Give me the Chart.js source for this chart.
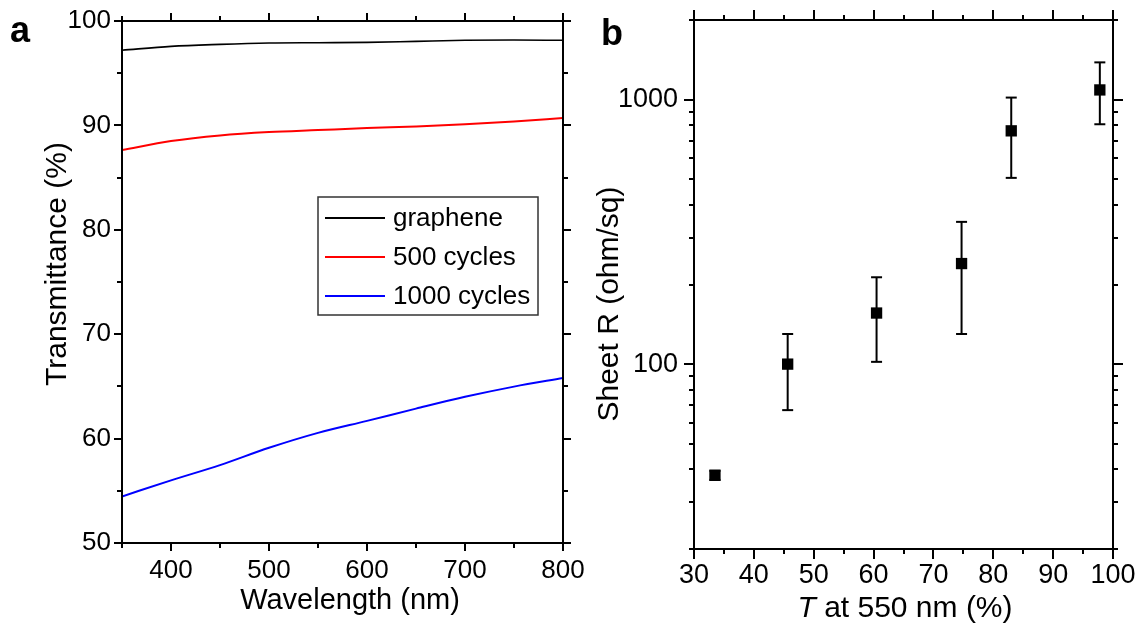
<!DOCTYPE html>
<html>
<head>
<meta charset="utf-8">
<script src="https://cdn.jsdelivr.net/npm/chart.js@4"></script>
<style>
  html, body { margin: 0; padding: 0; background: #fff; }
  #wrap { position: relative; width: 1139px; height: 624px; overflow: hidden; background: #fff; }
  #boxA { position: absolute; left: 0; top: 0; width: 600px; height: 624px; }
  #boxB { position: absolute; left: 580px; top: 0; width: 559px; height: 624px; }
</style>
</head>
<body>
<div id="wrap">
  <div id="boxA"><canvas id="chartA"></canvas></div>
  <div id="boxB"><canvas id="chartB"></canvas></div>
</div>
<script>
// ---------- Panel a data ----------
const wavelength = [350, 400, 450, 500, 550, 600, 650, 700, 750, 800];
const grapheneT  = [97.2, 97.57, 97.76, 97.89, 97.92, 97.95, 98.05, 98.15, 98.18, 98.15];
const cycles500T = [87.64, 88.5, 89.04, 89.36, 89.55, 89.74, 89.9, 90.1, 90.38, 90.7];
const cycles1000T = [54.46, 56.0, 57.46, 59.12, 60.55, 61.7, 62.87, 64.0, 64.98, 65.8];
const seriesLabelsA = ['graphene', '500 cycles', '1000 cycles'];
const xTickLabelsA = [400, 500, 600, 700, 800];
const xMinorA = [350, 450, 550, 650, 750];
const yTickLabelsA = [50, 60, 70, 80, 90, 100];
const yMinorA = [55, 65, 75, 85, 95];

// ---------- Panel b data ----------
const transmittance550 = [33.5, 45.65, 60.5, 74.7, 83.0, 97.8];
const sheetR     = [38, 100, 156, 240, 762, 1088];
const sheetRLow  = [36.5, 67, 102, 130, 506, 807];
const sheetRHigh = [39.5, 130, 213, 345, 1018, 1383];
const xTickLabelsB = [30, 40, 50, 60, 70, 80, 90, 100];
const xMinorB = [35, 45, 55, 65, 75, 85, 95];
const yTickLabelsB = [100, 1000];
const yMinorB = [20, 30, 40, 50, 60, 70, 80, 90, 200, 300, 400, 500, 600, 700, 800, 900, 2000];

const FONT = "'Liberation Sans', Arial, Helvetica, sans-serif";

function line(ctx, x1, y1, x2, y2) {
  ctx.beginPath(); ctx.moveTo(x1, y1); ctx.lineTo(x2, y2); ctx.stroke();
}

// Frame + outward ticks on all four sides
const frameTicks = {
  id: 'frameTicks',
  afterDraw(chart, args, o) {
    const { ctx, chartArea: { left, right, top, bottom }, scales: { x, y } } = chart;
    ctx.save();
    ctx.strokeStyle = '#000';
    ctx.lineWidth = 2;
    ctx.lineCap = 'butt';
    ctx.strokeRect(left, top, right - left, bottom - top);
    const doX = (vals, L) => vals.forEach(v => {
      const p = Math.round(x.getPixelForValue(v));
      line(ctx, p, bottom, p, bottom + L);
      line(ctx, p, top, p, top - L);
    });
    const doY = (vals, L) => vals.forEach(v => {
      const p = Math.round(y.getPixelForValue(v));
      line(ctx, left, p, left - L, p);
      line(ctx, right, p, right + L, p);
    });
    doX(o.xMajor, o.major); doX(o.xMinor, o.minor);
    doY(o.yMajor, o.major); doY(o.yMinor, o.minor);
    ctx.restore();
  }
};

// Titles / panel letters
const textDeco = {
  id: 'textDeco',
  afterDraw(chart, args, o) {
    const ctx = chart.ctx;
    ctx.save();
    ctx.fillStyle = '#000';
    ctx.font = 'bold 36px ' + FONT;
    ctx.textAlign = 'left'; ctx.textBaseline = 'alphabetic';
    ctx.fillText(o.letter, o.letterX, o.letterY);
    ctx.font = o.titleSize + 'px ' + FONT;
    ctx.textBaseline = 'middle';
    if (o.xItalic) {
      ctx.font = 'italic ' + o.titleSize + 'px ' + FONT;
      const w1 = ctx.measureText(o.xItalic).width;
      ctx.font = o.titleSize + 'px ' + FONT;
      const w2 = ctx.measureText(o.xTitle).width;
      const start = o.xTitleX - (w1 + w2) / 2;
      ctx.textAlign = 'left';
      ctx.font = 'italic ' + o.titleSize + 'px ' + FONT;
      ctx.fillText(o.xItalic, start, o.xTitleY);
      ctx.font = o.titleSize + 'px ' + FONT;
      ctx.fillText(o.xTitle, start + w1, o.xTitleY);
    } else {
      ctx.textAlign = 'center';
      ctx.fillText(o.xTitle, o.xTitleX, o.xTitleY);
    }
    ctx.font = o.yTitleSize + 'px ' + FONT;
    ctx.translate(o.yTitleX, o.yTitleY);
    ctx.rotate(-Math.PI / 2);
    ctx.textAlign = 'center';
    ctx.fillText(o.yTitle, 0, 0);
    ctx.restore();
  }
};

// Boxed legend for panel a
const boxLegend = {
  id: 'boxLegend',
  afterDraw(chart, args, o) {
    const ctx = chart.ctx;
    ctx.save();
    ctx.fillStyle = '#fff';
    ctx.fillRect(o.x, o.y, o.w, o.h);
    ctx.strokeStyle = '#333';
    ctx.lineWidth = 1.5;
    ctx.strokeRect(o.x, o.y, o.w, o.h);
    ctx.font = o.fontSize + 'px ' + FONT;
    ctx.textBaseline = 'middle';
    ctx.textAlign = 'left';
    chart.data.datasets.forEach((ds, i) => {
      const yy = o.firstRow + i * o.rowGap;
      ctx.strokeStyle = ds.borderColor;
      ctx.lineWidth = 2;
      line(ctx, o.x + 7, yy, o.x + 67, yy);
      ctx.fillStyle = '#000';
      ctx.fillText(ds.label, o.x + 75, yy + 1);
    });
    ctx.restore();
  }
};

// Error bars for panel b
const errorBars = {
  id: 'errorBars',
  afterDatasetsDraw(chart, args, o) {
    const { ctx, scales: { x, y } } = chart;
    ctx.save();
    ctx.strokeStyle = '#000';
    ctx.lineWidth = 2;
    o.xs.forEach((xv, i) => {
      const px = x.getPixelForValue(xv);
      const pl = y.getPixelForValue(o.low[i]);
      const ph = y.getPixelForValue(o.high[i]);
      line(ctx, px, pl, px, ph);
      line(ctx, px - o.cap, pl, px + o.cap, pl);
      line(ctx, px - o.cap, ph, px + o.cap, ph);
    });
    ctx.restore();
  }
};

const noGrid = { display: false, drawTicks: false, tickLength: 0 };

// ---------- Chart a ----------
const colorsA = ['#000000', '#ff0000', '#0000ff'];
const seriesA = [grapheneT, cycles500T, cycles1000T];
new Chart(document.getElementById('chartA'), {
  type: 'line',
  data: {
    datasets: seriesA.map((s, i) => ({
      label: seriesLabelsA[i],
      data: wavelength.map((w, j) => ({ x: w, y: s[j] })),
      borderColor: colorsA[i],
      borderWidth: i === 0 ? 1.6 : 2,
      pointRadius: 0,
      cubicInterpolationMode: 'monotone',
      fill: false
    }))
  },
  options: {
    responsive: true,
    maintainAspectRatio: false,
    animation: false,
    layout: { padding: { left: 0, top: 21, right: 37, bottom: 0 } },
    plugins: {
      legend: { display: false },
      tooltip: { enabled: false },
      frameTicks: { xMajor: xTickLabelsA, xMinor: xMinorA, yMajor: yTickLabelsA, yMinor: yMinorA, major: 8, minor: 5 },
      textDeco: { letter: 'a', letterX: 10, letterY: 42, titleSize: 29, yTitleSize: 30,
        xTitle: 'Wavelength (nm)', xTitleX: 350, xTitleY: 601,
        yTitle: 'Transmittance (%)', yTitleX: 58, yTitleY: 264 },
      boxLegend: { x: 318, y: 197, w: 220, h: 118, firstRow: 218, rowGap: 39, fontSize: 26 }
    },
    scales: {
      x: {
        type: 'linear', min: 350, max: 800,
        grid: noGrid, border: { display: false },
        afterBuildTicks: s => { s.ticks = xTickLabelsA.map(v => ({ value: v })); },
        afterFit: s => { s.height = 624 - 543; s.paddingLeft = 0; s.paddingRight = 0; },
        ticks: { padding: 12, maxRotation: 0, autoSkip: false, color: '#000', font: { family: FONT, size: 26 } }
      },
      y: {
        type: 'linear', min: 50, max: 100,
        grid: noGrid, border: { display: false },
        afterBuildTicks: s => { s.ticks = yTickLabelsA.map(v => ({ value: v })); },
        afterFit: s => { s.width = 122; s.paddingTop = 0; s.paddingBottom = 0; },
        ticks: { padding: 11, autoSkip: false, color: '#000', font: { family: FONT, size: 26 } }
      }
    }
  },
  plugins: [frameTicks, textDeco, boxLegend]
});

// ---------- Chart b ----------
new Chart(document.getElementById('chartB'), {
  type: 'scatter',
  data: {
    datasets: [{
      label: 'Sheet R',
      data: transmittance550.map((t, i) => ({ x: t, y: sheetR[i] })),
      pointStyle: 'rect',
      pointRadius: 8,
      backgroundColor: '#000',
      borderColor: '#000',
      borderWidth: 0
    }]
  },
  options: {
    responsive: true,
    maintainAspectRatio: false,
    animation: false,
    layout: { padding: { left: 0, top: 20, right: 26, bottom: 0 } },
    plugins: {
      legend: { display: false },
      tooltip: { enabled: false },
      frameTicks: { xMajor: xTickLabelsB, xMinor: xMinorB, yMajor: yTickLabelsB, yMinor: yMinorB, major: 10, minor: 5 },
      errorBars: { xs: transmittance550, low: sheetRLow, high: sheetRHigh, cap: 5.5 },
      textDeco: { letter: 'b', letterX: 21, letterY: 45, titleSize: 30, yTitleSize: 30,
        xItalic: 'T', xTitle: ' at 550 nm (%)', xTitleX: 325, xTitleY: 609,
        yTitle: 'Sheet R (ohm/sq)', yTitleX: 30, yTitleY: 304 }
    },
    scales: {
      x: {
        type: 'linear', min: 30, max: 100,
        grid: noGrid, border: { display: false },
        afterBuildTicks: s => { s.ticks = xTickLabelsB.map(v => ({ value: v })); },
        afterFit: s => { s.height = 624 - 549; s.paddingLeft = 0; s.paddingRight = 0; },
        ticks: { padding: 10, maxRotation: 0, autoSkip: false, color: '#000', font: { family: FONT, size: 27 } }
      },
      y: {
        type: 'logarithmic', min: 20, max: 2000,
        grid: noGrid, border: { display: false },
        afterBuildTicks: s => { s.ticks = yTickLabelsB.map(v => ({ value: v })); },
        afterFit: s => { s.width = 114; s.paddingTop = 0; s.paddingBottom = 0; },
        ticks: { padding: 16, autoSkip: false, color: '#000', font: { family: FONT, size: 27 },
          callback: v => String(v) }
      }
    }
  },
  plugins: [frameTicks, errorBars, textDeco]
});
</script>
</body>
</html>
